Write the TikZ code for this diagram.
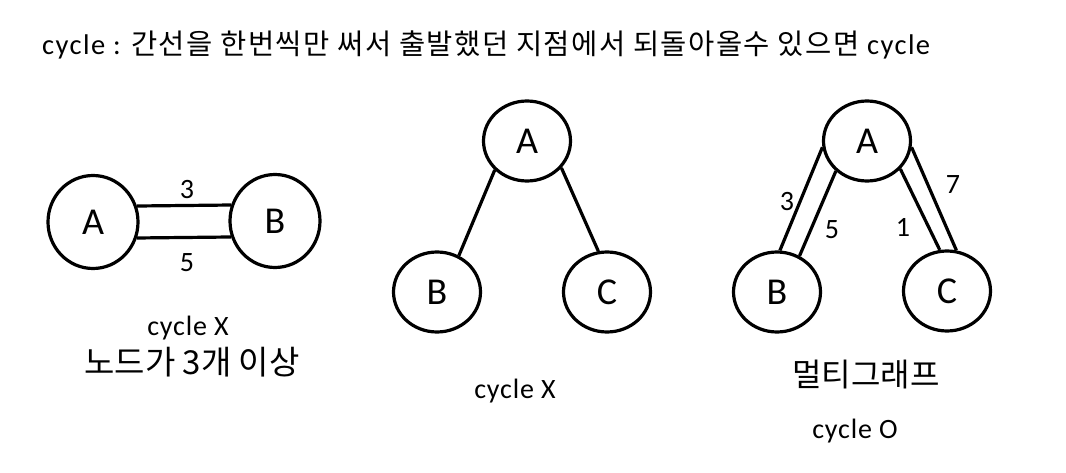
\documentclass[tikz,border=0pt]{standalone}
\usepackage{fontspec}
\setmainfont{Carlito}[LetterSpace=3]
\newfontfamily\latt{Carlito}[LetterSpace=5]
\newfontfamily\kr{Noto Sans CJK KR}
\newfontfamily\krt{Noto Sans CJK KR}[LetterSpace=5]
\usetikzlibrary{shapes.geometric}
\begin{document}
\begin{tikzpicture}[x=1pt,y=-1pt,
  vnode/.style={draw,ellipse,line width=3.2pt,inner sep=0pt,font=\fontsize{38}{42}\selectfont},
  bignode/.style={vnode,minimum width=90pt,minimum height=93pt},
  smallnode/.style={vnode,minimum width=87pt,minimum height=80pt},
  edge/.style={line width=3.2pt},
  wlabel/.style={font=\fontsize{28}{30}\selectfont,inner sep=0pt},
  caption/.style={anchor=base,inner sep=0pt,font=\fontsize{28}{30}\selectfont},
  krcaption/.style={anchor=base,inner sep=0pt,font=\fontsize{33}{36}\selectfont\kr}]
\useasboundingbox (0,0) rectangle (1066,473);
% title
\node[anchor=base west,inner sep=0pt,font=\fontsize{28.5}{30}\selectfont\latt] (title) at (42,55)
  {cycle : {\krt 간선을 한번씩만 써서 출발했던 지점에서 되돌아올수 있으면} cycle};
% graph 1
\node[bignode] (A1) at (93,222) {A};
\node[bignode] (B1) at (275,221) {B};
\draw[edge] (A1.20) -- (B1.160);
\draw[edge] (A1.-20) -- (B1.200);
\node[wlabel] (l13) at (187,190) {3};
\node[wlabel] (l15) at (187,263) {5};
\node[caption] (c1) at (188,335) {cycle X};
\node[krcaption] (c1b) at (192,374) {노드가 3개 이상};
% graph 2
\node[smallnode] (A2) at (527,141) {A};
\node[smallnode] (B2) at (437,292) {B};
\node[smallnode] (C2) at (607,292) {C};
\draw[edge] (A2.222) -- (B2.59);
\draw[edge] (A2.322) -- (C2.102);
\node[caption] (c2) at (515,398) {cycle X};
% graph 3
\node[smallnode] (A3) at (867,141) {A};
\node[smallnode] (B3) at (777,292) {B};
\node[smallnode] (C3) at (947,291) {C};
\draw[edge] (A3.188) -- (B3.86);
\draw[edge] (A3.224) -- (B3.58);
\draw[edge] (A3.320) -- (C3.100);
\draw[edge] (A3.352) -- (C3.77);
\node[wlabel] (l33) at (787,202) {3};
\node[wlabel] (l35) at (832,230) {5};
\node[wlabel] (l31) at (903,227) {1};
\node[wlabel] (l37) at (953,185) {7};
\node[krcaption,font=\fontsize{32}{36}\selectfont\kr] (c3) at (866,386) {멀티그래프};
\node[caption] (c3b) at (855,438) {cycle O};
\end{tikzpicture}
\end{document}
